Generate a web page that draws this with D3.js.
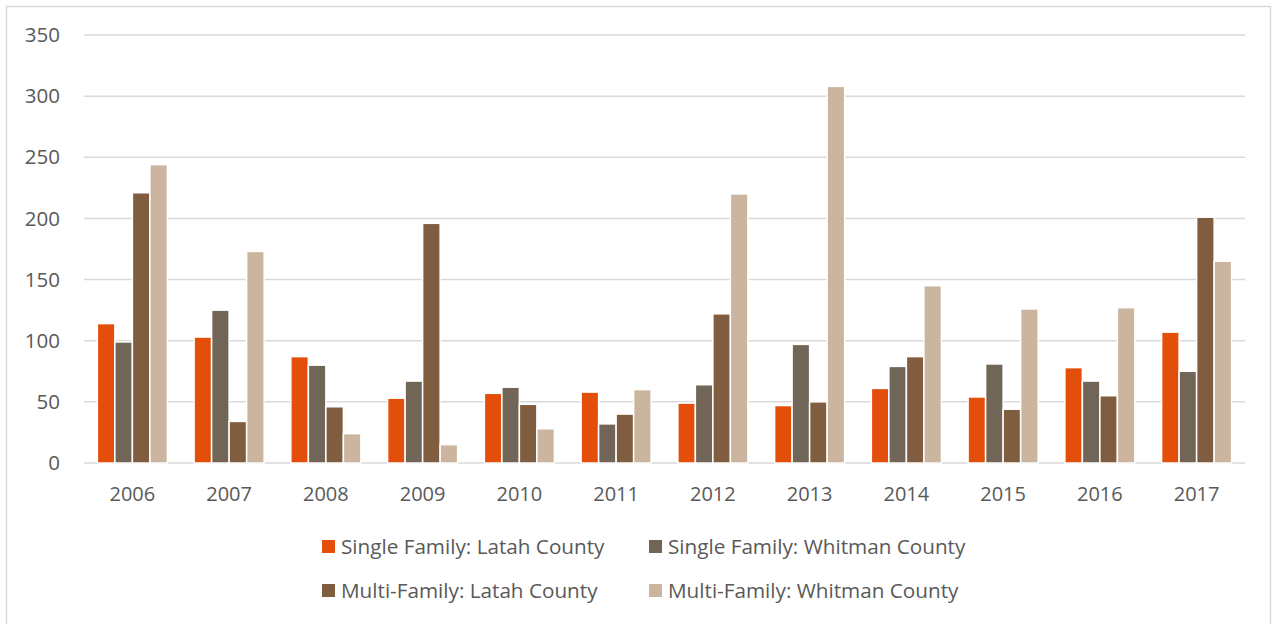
<!DOCTYPE html>
<html><head><meta charset="utf-8">
<script src="https://cdn.jsdelivr.net/npm/d3@7"></script>
<style>body{margin:0;background:#fff;}svg{display:block;}svg text{font-family:"Open Sans",sans-serif;fill:#595959;}</style>
</head><body>
<svg id="c" width="1273" height="624"></svg>
<script>
const years = ["2006","2007","2008","2009","2010","2011","2012","2013","2014","2015","2016","2017"];
const seriesNames = ["Single Family: Latah County","Single Family: Whitman County","Multi-Family: Latah County","Multi-Family: Whitman County"];
const sfLatah   = [114,103,87,53,57,58,49,47,61,54,78,107];
const sfWhitman = [99,125,80,67,62,32,64,97,79,81,67,75];
const mfLatah   = [221,34,46,196,48,40,122,50,87,44,55,201];
const mfWhitman = [244,173,24,15,28,60,220,308,145,126,127,165];
const yTicks = [0,50,100,150,200,250,300,350];
const colors = ["#e34e0a","#716557","#7f5d3e","#cbb59e"];

(function(){
const seriesVals = [sfLatah, sfWhitman, mfLatah, mfWhitman];
const svg = d3.select("#c");
svg.append("rect").attr("x",6.5).attr("y",6.5).attr("width",1264).attr("height",640)
  .attr("fill","none").attr("stroke","#d9d9d9").attr("stroke-width",1.5);

const pLeft=84, pRight=1245, pTop=35, pBottom=463;
const x0 = d3.scaleBand().domain(years).range([pLeft,pRight]).paddingInner(0.276).paddingOuter(0.138);
const x1 = d3.scaleBand().domain(d3.range(4)).range([0,x0.bandwidth()]);
const y = d3.scaleLinear().domain([0,350]).range([pBottom,pTop]);

svg.append("g").selectAll("line").data(yTicks).join("line")
  .attr("x1",pLeft).attr("x2",pRight).attr("y1",d=>y(d)).attr("y2",d=>y(d))
  .attr("stroke","#d9d9d9").attr("stroke-width",1.5);
svg.append("g").selectAll("text").data(yTicks).join("text")
  .attr("x",60).attr("y",d=>y(d)).attr("dy","0.35em").attr("text-anchor","end")
  .attr("font-size",20.5).text(d=>d);

const g = svg.append("g").selectAll("g").data(years).join("g")
  .attr("transform",d=>`translate(${x0(d)},0)`);
g.selectAll("rect").data((d,i)=>seriesVals.map((s,k)=>({k,v:s[i]}))).join("rect")
  .attr("x",d=>x1(d.k)).attr("width",x1.bandwidth())
  .attr("y",d=>y(d.v)).attr("height",d=>y(0)-y(d.v))
  .attr("fill",d=>colors[d.k]).attr("stroke","#fff").attr("stroke-width",1.5);

svg.append("g").selectAll("text").data(years).join("text")
  .attr("x",d=>x0(d)+x0.bandwidth()/2).attr("y",501).attr("text-anchor","middle")
  .attr("font-size",20).text(d=>d);

const legPos = [[322,547],[649,547],[322,591],[649,591]];
const lg = svg.append("g").selectAll("g").data(seriesNames).join("g")
  .attr("transform",(d,i)=>`translate(${legPos[i][0]},${legPos[i][1]})`);
lg.append("rect").attr("x",0).attr("y",-7).attr("width",13).attr("height",13).attr("fill",(d,i)=>colors[i]);
lg.append("text").attr("x",19).attr("y",0).attr("dy","0.35em").attr("font-size",20.7).text(d=>d);
})();
</script>
</body></html>
